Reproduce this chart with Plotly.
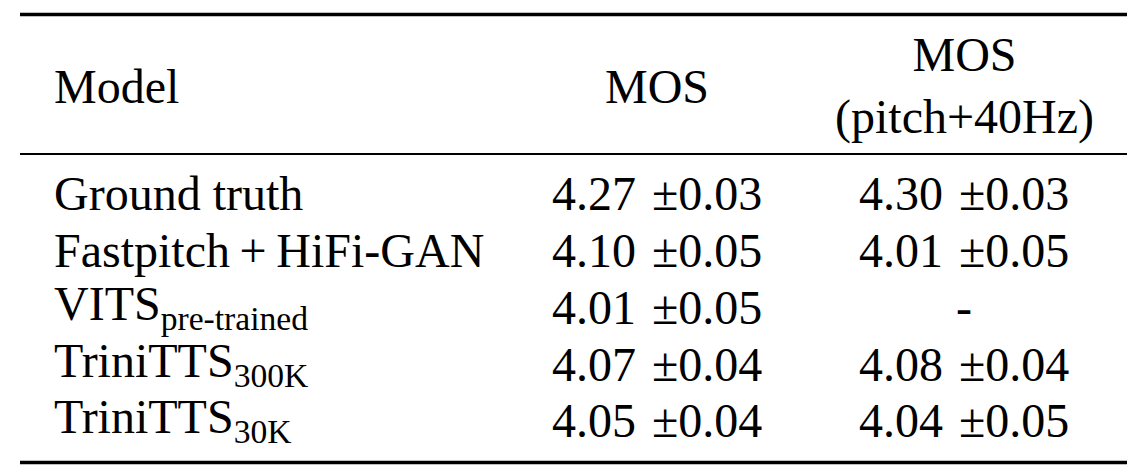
import plotly.graph_objects as go

# table content
models = ["Ground truth", "Fastpitch\u2009+\u2009HiFi-GAN", "VITS<sub>pre-trained</sub>",
          "TriniTTS<sub>300K</sub>", "TriniTTS<sub>30K</sub>"]
mos = ["4.27", "4.10", "4.01", "4.07", "4.05"]
mos_err = ["0.03", "0.05", "0.05", "0.04", "0.04"]
mos_pitch = ["4.30", "4.01", "-", "4.08", "4.04"]
mos_pitch_err = ["0.03", "0.05", None, "0.04", "0.05"]
headers = ["Model", "MOS", "MOS<br>(pitch+40Hz)"]

W, H = 1141, 472
PAD = 8  # browser body margin
FONT = dict(family="Liberation Serif, Times New Roman, serif", size=48, color="black")


def cell(val, err):
    if err is None:
        return val
    return f"{val} \u200a±{err}"


fig = go.Figure()

col_x = [52, 657, 964]
row_y = [193, 250, 307, 364, 420]

# header
fig.add_annotation(x=col_x[0], y=86, text=headers[0], xanchor="left", yanchor="middle",
                   showarrow=False, font=FONT)
fig.add_annotation(x=col_x[1], y=86, text=headers[1], xanchor="center", yanchor="middle",
                   showarrow=False, font=FONT)
fig.add_annotation(x=col_x[2], y=86, text=headers[2], xanchor="center", yanchor="middle",
                   showarrow=False, font=FONT)

for i, y in enumerate(row_y):
    fig.add_annotation(x=col_x[0], y=y, text=models[i], xanchor="left", yanchor="middle",
                       showarrow=False, font=FONT)
    fig.add_annotation(x=col_x[1], y=y, text=cell(mos[i], mos_err[i]), xanchor="center",
                       yanchor="middle", showarrow=False, font=FONT)
    fig.add_annotation(x=col_x[2], y=y, text=cell(mos_pitch[i], mos_pitch_err[i]), xanchor="center",
                       yanchor="middle", showarrow=False, font=FONT)

# booktabs-like rules
fig.add_shape(type="line", x0=20, x1=1127, y0=14.5, y1=14.5, line=dict(color="black", width=3.5))
fig.add_shape(type="line", x0=20, x1=1127, y0=154, y1=154, line=dict(color="black", width=2))
fig.add_shape(type="line", x0=20, x1=1127, y0=462.5, y1=462.5, line=dict(color="black", width=3.5))

fig.update_layout(
    width=W - PAD, height=H - PAD,
    margin=dict(l=0, r=0, t=0, b=0),
    paper_bgcolor="white", plot_bgcolor="white",
    xaxis=dict(range=[PAD, W], visible=False, fixedrange=True),
    yaxis=dict(range=[H, PAD], visible=False, fixedrange=True),
    showlegend=False,
)

fig.write_html("out.html")
